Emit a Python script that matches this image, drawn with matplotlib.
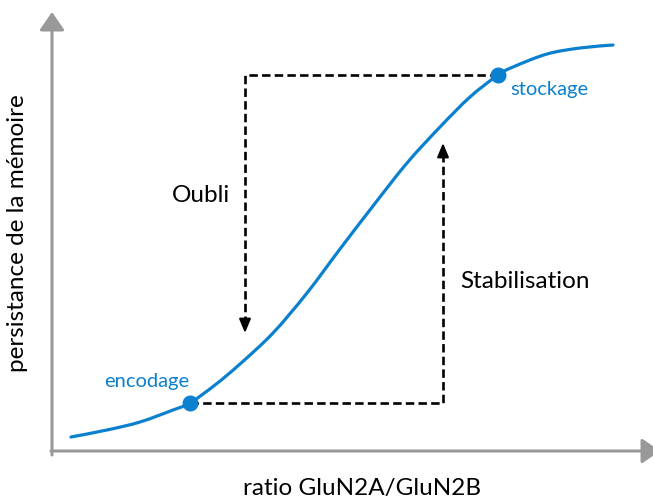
import matplotlib
matplotlib.use('Agg')
import numpy as np
import matplotlib.pyplot as plt
from matplotlib.path import Path
from matplotlib.patches import PathPatch

plt.rcParams['font.family'] = ['Lato', 'DejaVu Sans']

# sigmoid: persistence vs GluN2A/GluN2B ratio (arbitrary units, origin at axis corner)
ratio = [19, 55, 88, 121, 138, 163, 188, 221, 255, 288, 321, 355, 388,
         418, 446, 461, 495, 528, 561]
persistence = [15, 22, 30, 42, 49, 67, 88, 119, 159, 203, 246, 289, 325,
               355, 377, 385, 398, 404, 407]
encode_idx = 4
store_idx = 14

forget_x, forget_tip = 193, 119
stab_x, stab_tip = 391, 309

blue = '#0a80cf'
grey = '#999999'


def smooth_path(xs, ys):
    # Catmull-Rom through the points, written as cubic Bezier segments
    pts = np.column_stack([xs, ys]).astype(float)
    p = np.vstack([pts[0], pts, pts[-1]])
    verts = [pts[0]]
    codes = [Path.MOVETO]
    for i in range(1, len(p) - 2):
        c1 = p[i] + (p[i + 1] - p[i - 1]) / 6
        c2 = p[i + 1] - (p[i + 2] - p[i]) / 6
        verts += [c1, c2, p[i + 1]]
        codes += [Path.CURVE4] * 3
    return Path(verts, codes)


fig = plt.figure(figsize=(6.53, 5), dpi=100)
ax = fig.add_axes([0, 0, 1, 1])
ax.set_xlim(-52, 601)
ax.set_ylim(-48, 452)
ax.axis('off')

# axes with arrow heads
arrow_kw = dict(arrowstyle='-|>,head_length=0.55,head_width=0.38',
                color=grey, lw=2.2, mutation_scale=20, shrinkA=0, shrinkB=0)
ax.annotate('', xy=(0, 440), xytext=(0, -3), arrowprops=arrow_kw,
            annotation_clip=False)
ax.annotate('', xy=(608, 1), xytext=(-1, 1), arrowprops=arrow_kw,
            annotation_clip=False)

ax.add_patch(PathPatch(smooth_path(ratio, persistence), fill=False,
                       edgecolor=blue, lw=2.3, capstyle='round',
                       joinstyle='round', zorder=3))

ex, ey = ratio[encode_idx], persistence[encode_idx]
sx, sy = ratio[store_idx], persistence[store_idx]

dash_kw = dict(color='black', lw=1.9, dashes=(3.2, 1.6), zorder=2)
ax.plot([sx, forget_x, forget_x], [sy, sy, forget_tip + 6], **dash_kw)
ax.plot([ex, stab_x, stab_x], [ey, ey, stab_tip - 6], **dash_kw)

head_kw = dict(arrowstyle='-|>,head_length=0.6,head_width=0.25',
               color='black', lw=1.5, mutation_scale=14,
               shrinkA=0, shrinkB=0)
ax.annotate('', xy=(forget_x, forget_tip), xytext=(forget_x, forget_tip + 12),
            arrowprops=head_kw)
ax.annotate('', xy=(stab_x, stab_tip), xytext=(stab_x, stab_tip - 12),
            arrowprops=head_kw)

ax.plot([ex, sx], [ey, sy], 'o', color=blue, ms=10.5, zorder=4)

ax.text(95, 71, 'encodage', color=blue, fontsize=14.5, ha='center', va='center')
ax.text(497, 362, 'stockage', color=blue, fontsize=14.5, ha='center', va='center')
ax.text(149, 257, 'Oubli', fontsize=17.5, ha='center', va='center')
ax.text(473, 170, 'Stabilisation', fontsize=17.5, ha='center', va='center')

ax.text(310, -36, 'ratio GluN2A/GluN2B', fontsize=17.5, ha='center', va='center')
ax.text(-34, 219, 'persistance de la mémoire', fontsize=17.5, ha='center',
        va='center', rotation=90)

fig.savefig('out.png', dpi=100)
